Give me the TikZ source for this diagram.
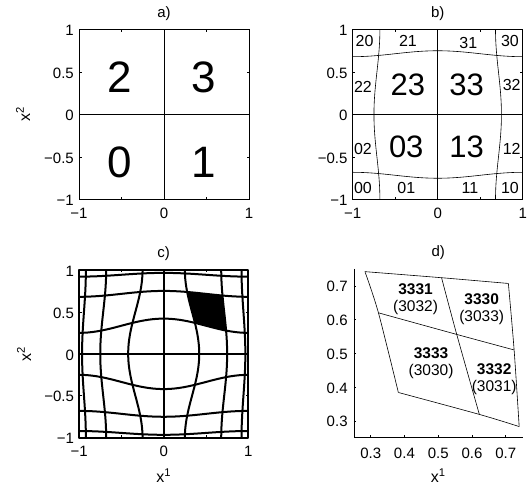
\documentclass[tikz,border=0pt]{standalone}
\usepackage{fontspec}
\setmainfont{Liberation Sans}
\tikzset{
  ticklab/.style={font=\fontsize{15}{17}\selectfont, inner sep=0pt},
  ttl/.style={font=\fontsize{15}{17}\selectfont, inner sep=0pt},
  axlab/.style={font=\fontsize{16}{18}\selectfont, inner sep=0pt},
  bignum/.style={font=\fontsize{44}{46}\selectfont, inner sep=0pt},
  midnum/.style={font=\fontsize{31}{33}\selectfont, inner sep=0pt},
  smallnum/.style={font=\fontsize{16}{18}\selectfont, inner sep=0pt},
  cellnum/.style={font=\fontsize{15.5}{17}\selectfont, inner sep=0pt, align=center},
  axline/.style={line width=0.6pt},
  gridthin/.style={line width=0.6pt},
  gridthick/.style={line width=2pt, line join=round},
  declare function={warp(\m,\a,\s)=\m+\a*cos(180*\s);}
}
% box, ticks and tick labels of a [-1,1]^2 panel
\newcommand\squareaxes[1]{%
  \draw[axline] (-1,-1) rectangle (1,1);
  \foreach \v/\t [count=\i] in {-1/−1,-0.5/−0.5,0/0,0.5/0.5,1/1} {
    \draw[axline] (-1,\v) -- ++(2.5pt,0) (1,\v) -- ++(-2.5pt,0)
      (\v,-1) -- ++(0,2.5pt) (\v,1) -- ++(0,-2.5pt);
    \node[ticklab, anchor=east] (#1ty\i) at ([xshift=-5pt,yshift=-1pt]-1,\v) {\t};
  }
  \foreach \v/\t [count=\i] in {-1/−1,0/0,1/1}
    \node[ticklab, anchor=north] (#1tx\i) at ([yshift=-8pt]\v,-1) {\t};
}
\begin{document}
\begin{tikzpicture}[x=1pt, y=1pt]
\useasboundingbox (0,0) rectangle (531,490);
% a)
\begin{scope}[shift={(164,375.5)}, x=85pt, y=85pt]
  \squareaxes{a}
  \draw[gridthin] (-1,0) -- (1,0) (0,-1) -- (0,1);
  \node[bignum] (a2) at (-0.52,0.44) {2};
  \node[bignum] (a3) at (0.47,0.44) {3};
  \node[bignum] (a0) at (-0.52,-0.56) {0};
  \node[bignum] (a1) at (0.47,-0.56) {1};
  \node[ttl] (atitle) at ([yshift=16pt]0,1) {a)};
  \node[axlab, rotate=90] (aylab) at ([xshift=-56pt]-1,0) {x\textsuperscript{2}};
\end{scope}
% b)
\begin{scope}[shift={(437.7,375.5)}, x=85pt, y=85pt]
  \squareaxes{b}
  \draw[gridthin] (-1,0) -- (1,0) (0,-1) -- (0,1);
  \foreach \sg in {-1,1} {
    \draw[gridthin] plot[domain=-1:1, samples=40, smooth] (\x,{\sg*warp(0.715,0.035,\x)});
    \draw[gridthin] plot[domain=-1:1, samples=40, smooth] ({\sg*warp(0.715,0.035,\x)},\x);
  }
  \node[midnum] (b23) at (-0.35,0.35) {23};
  \node[midnum] (b33) at (0.34,0.35) {33};
  \node[midnum] (b03) at (-0.37,-0.38) {03};
  \node[midnum] (b13) at (0.34,-0.38) {13};
  \node[smallnum] (b20) at (-0.86,0.86) {20};
  \node[smallnum] (b21) at (-0.35,0.86) {21};
  \node[smallnum] (b31) at (0.36,0.84) {31};
  \node[smallnum] (b30) at (0.85,0.86) {30};
  \node[smallnum] (b22) at (-0.88,0.33) {22};
  \node[smallnum] (b32) at (0.87,0.35) {32};
  \node[smallnum] (b02) at (-0.88,-0.40) {02};
  \node[smallnum] (b12) at (0.87,-0.41) {12};
  \node[smallnum] (b00) at (-0.88,-0.87) {00};
  \node[smallnum] (b01) at (-0.37,-0.87) {01};
  \node[smallnum] (b11) at (0.38,-0.87) {11};
  \node[smallnum] (b10) at (0.85,-0.87) {10};
  \node[ttl] (btitle) at ([yshift=16pt]0,1) {b)};
\end{scope}
% c)
\begin{scope}[shift={(163.7,136.15)}, x=84.6pt, y=83.9pt]
  \fill plot[domain=0.277:0.695, samples=20] (\x,{warp(0.715,0.035,\x)})
    -- plot[domain=0.695:0.2772, samples=20] ({warp(0.715,0.035,\x)},\x)
    -- plot[domain=0.7375:0.369, samples=20] (\x,{warp(0.335,0.085,\x)})
    -- plot[domain=0.369:0.7375, samples=20] ({warp(0.335,0.085,\x)},\x) -- cycle;
  \draw[gridthick] (-1,-1) rectangle (1,1) (-1,0) -- (1,0) (0,-1) -- (0,1);
  \foreach \m/\a in {0.9425/0.0225, 0.715/0.035, 0.335/0.085}
    \foreach \sg in {-1,1} {
      \draw[gridthick] plot[domain=-1:1, samples=40, smooth] (\x,{\sg*warp(\m,\a,\x)});
      \draw[gridthick] plot[domain=-1:1, samples=40, smooth] ({\sg*warp(\m,\a,\x)},\x);
    }
  \squareaxes{c}
  \node[ttl] (ctitle) at ([yshift=16pt]0,1) {c)};
  \node[axlab, rotate=90] (cylab) at ([xshift=-55pt]-1,0) {x\textsuperscript{2}};
  \node[axlab] (cxlab) at ([yshift=-38pt]0,-1) {x\textsuperscript{1}};
\end{scope}
% d)
\begin{scope}[shift={(269.425,-32.075)}, x=337.5pt, y=337.5pt]
  \draw[axline] (0.25,0.75) -- (0.25,0.25) -- (0.75,0.25);
  \foreach \v [count=\i] in {0.3,0.4,0.5,0.6,0.7} {
    \draw[axline] (0.25,\v) -- ++(2.5pt,0) (\v,0.25) -- ++(0,2.5pt);
    \node[ticklab, anchor=east] (dty\i) at ([xshift=-6pt,yshift=-1pt]0.25,\v) {\v};
    \node[ticklab, anchor=north] (dtx\i) at ([yshift=-10pt]\v,0.25) {\v};
  }
  \coordinate (tl) at (0.283,0.742);
  \coordinate (tm) at (0.510,0.724);
  \coordinate (tr) at (0.708,0.707);
  \coordinate (lm) at (0.323,0.620);
  \coordinate (cc) at (0.555,0.556);
  \coordinate (rm) at (0.725,0.510);
  \coordinate (bl) at (0.382,0.384);
  \coordinate (bm) at (0.622,0.319);
  \coordinate (br) at (0.740,0.283);
  \draw[gridthin] plot[smooth] coordinates {(tl) (tm) (tr)};
  \draw[gridthin] plot[smooth] coordinates {(tr) (rm) (br)};
  \draw[gridthin] plot[smooth] coordinates {(br) (bm) (bl)};
  \draw[gridthin] plot[smooth] coordinates {(bl) (lm) (tl)};
  \draw[gridthin] plot[smooth] coordinates {(tm) (cc) (bm)};
  \draw[gridthin] plot[smooth] coordinates {(lm) (cc) (rm)};
  \node[cellnum] (d3331) at (0.433,0.660) {\textbf{3331}\\(3032)};
  \node[cellnum] (d3330) at (0.629,0.632) {\textbf{3330}\\(3033)};
  \node[cellnum] (d3333) at (0.479,0.472) {\textbf{3333}\\(3030)};
  \node[cellnum] (d3332) at (0.666,0.422) {\textbf{3332}\\(3031)};
  \node[ttl] (dtitle) at ([yshift=16pt]0.5,0.75) {d)};
  \node[axlab] (dxlab) at ([yshift=-38pt]0.5,0.25) {x\textsuperscript{1}};
\end{scope}
\end{tikzpicture}
\end{document}
